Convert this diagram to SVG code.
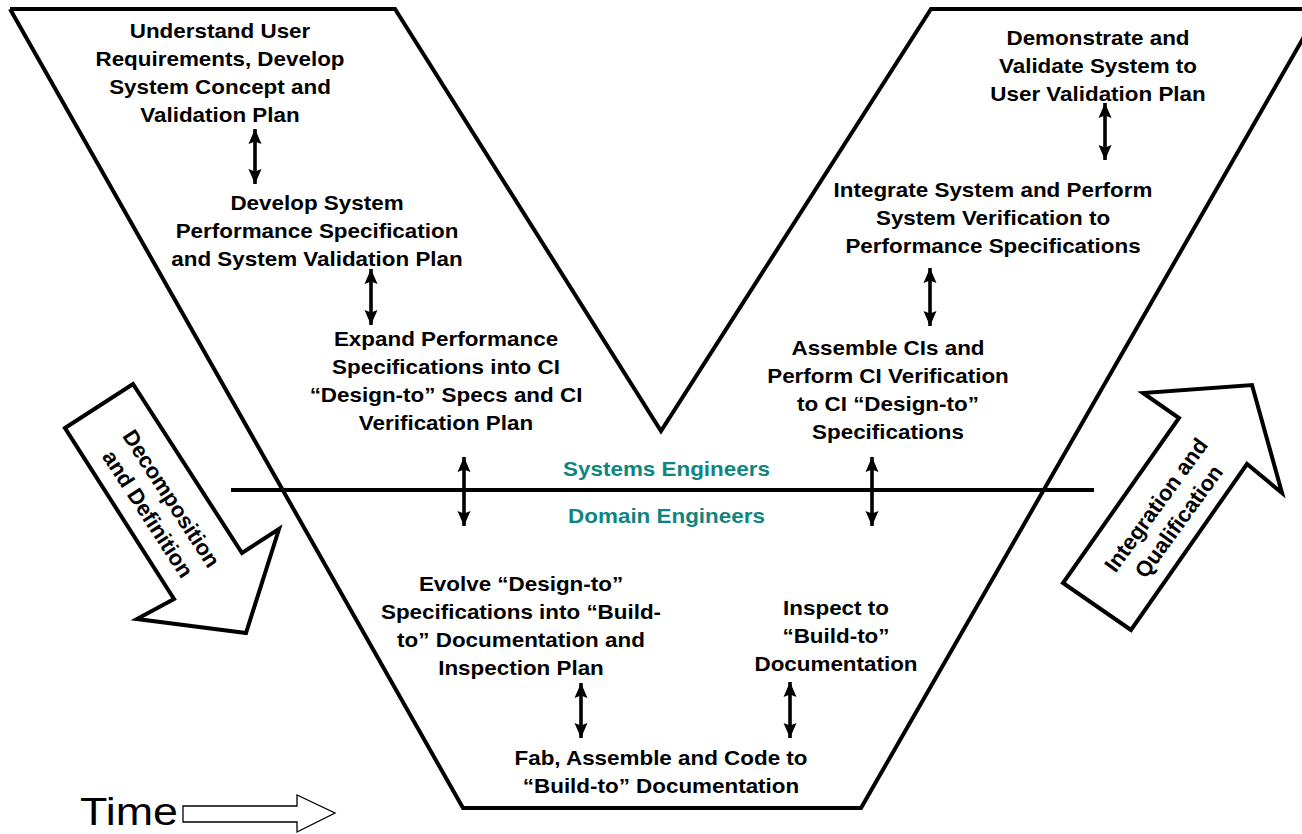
<svg xmlns="http://www.w3.org/2000/svg" width="1302" height="834" viewBox="0 0 1302 834">
<style>
.lbl{font-family:"Liberation Sans",Arial,sans-serif;font-weight:bold;font-size:19.5px;fill:#000;text-anchor:middle}
.team{font-family:"Liberation Sans",Arial,sans-serif;font-weight:bold;font-size:19.5px;fill:#0f8580;text-anchor:middle}
.big{font-family:"Liberation Sans",Arial,sans-serif;font-weight:bold;font-size:22px;fill:#000;text-anchor:middle}
.outline{fill:none;stroke:#000;stroke-width:4;stroke-linejoin:miter}
.barrow{fill:#fff;stroke:#000;stroke-width:4;stroke-linejoin:miter}
.dbl{stroke:#000;stroke-width:3.6;fill:none;marker-start:url(#head);marker-end:url(#head)}
</style>
<defs>
<marker id="head" markerUnits="userSpaceOnUse" markerWidth="16" markerHeight="16" viewBox="0 0 16 16" refX="15" refY="8" orient="auto-start-reverse">
<path d="M0,1.5 L15,8 L0,14.5 L2.5,8 Z" fill="#000"/>
</marker>
</defs>
<rect width="1302" height="834" fill="#fff"/>

<g id="v-shape">
<path class="outline" d="M10,9 L395,9 L661,431 L931,9 L1330,9"/>
<path class="outline" d="M1320,9 L861,808 L463,808 L10,9"/>
<line class="outline" x1="231" y1="490" x2="1094" y2="490"/>
</g>

<g id="arrow-decomposition">
<polygon class="barrow" points="65,428 133,384 242,553 279,529 246,633 137,619 174,599"/>
<g transform="translate(160,506) rotate(57)">
<text class="big" x="0" y="-6">Decomposition</text>
<text class="big" x="0" y="22">and Definition</text>
</g>
</g>

<g id="arrow-integration">
<polygon class="barrow" points="1131,630 1063,583 1179,418 1143,393 1252,385 1282,493 1247,464"/>
<g transform="translate(1167,513) rotate(-54)">
<text class="big" x="0" y="-6">Integration and</text>
<text class="big" x="0" y="22">Qualification</text>
</g>
</g>

<g id="node-user-req" transform="translate(220,0) scale(1.15,1)">
<text class="lbl" x="0" y="38">Understand User</text>
<text class="lbl" x="0" y="66">Requirements, Develop</text>
<text class="lbl" x="0" y="94">System Concept and</text>
<text class="lbl" x="0" y="122">Validation Plan</text>
</g>

<g id="node-sys-perf-spec" transform="translate(317,0) scale(1.15,1)">
<text class="lbl" x="0" y="210">Develop System</text>
<text class="lbl" x="0" y="238">Performance Specification</text>
<text class="lbl" x="0" y="266">and System Validation Plan</text>
</g>

<g id="node-expand-perf" transform="translate(446,0) scale(1.15,1)">
<text class="lbl" x="0" y="346.5">Expand Performance</text>
<text class="lbl" x="0" y="374.5">Specifications into CI</text>
<text class="lbl" x="0" y="402.5">“Design-to” Specs and CI</text>
<text class="lbl" x="0" y="430.5">Verification Plan</text>
</g>

<g id="node-demonstrate" transform="translate(1098,0) scale(1.15,1)">
<text class="lbl" x="0" y="45">Demonstrate and</text>
<text class="lbl" x="0" y="73">Validate System to</text>
<text class="lbl" x="0" y="101">User Validation Plan</text>
</g>

<g id="node-integrate" transform="translate(993,0) scale(1.15,1)">
<text class="lbl" x="0" y="197">Integrate System and Perform</text>
<text class="lbl" x="0" y="225">System Verification to</text>
<text class="lbl" x="0" y="253">Performance Specifications</text>
</g>

<g id="node-assemble" transform="translate(888,0) scale(1.15,1)">
<text class="lbl" x="0" y="355">Assemble CIs and</text>
<text class="lbl" x="0" y="383">Perform CI Verification</text>
<text class="lbl" x="0" y="411">to CI “Design-to”</text>
<text class="lbl" x="0" y="439">Specifications</text>
</g>

<g id="node-evolve" transform="translate(521,0) scale(1.15,1)">
<text class="lbl" x="0" y="591">Evolve “Design-to”</text>
<text class="lbl" x="0" y="619">Specifications into “Build-</text>
<text class="lbl" x="0" y="647">to” Documentation and</text>
<text class="lbl" x="0" y="675">Inspection Plan</text>
</g>

<g id="node-inspect" transform="translate(836,0) scale(1.15,1)">
<text class="lbl" x="0" y="615">Inspect to</text>
<text class="lbl" x="0" y="643">“Build-to”</text>
<text class="lbl" x="0" y="671">Documentation</text>
</g>

<g id="node-fab" transform="translate(661,0) scale(1.15,1)">
<text class="lbl" x="0" y="765">Fab, Assemble and Code to</text>
<text class="lbl" x="0" y="793">“Build-to” Documentation</text>
</g>

<g id="label-systems" transform="translate(666.5,0) scale(1.15,1)">
<text class="team" x="0" y="476">Systems Engineers</text>
</g>
<g id="label-domain" transform="translate(666.5,0) scale(1.15,1)">
<text class="team" x="0" y="523">Domain Engineers</text>
</g>

<g id="connectors">
<line class="dbl" x1="255" y1="129" x2="255" y2="184"/>
<line class="dbl" x1="371" y1="269" x2="371" y2="325"/>
<line class="dbl" x1="464" y1="457" x2="464" y2="526"/>
<line class="dbl" x1="872" y1="457" x2="872" y2="526"/>
<line class="dbl" x1="930" y1="268" x2="930" y2="326"/>
<line class="dbl" x1="1105" y1="103" x2="1105" y2="160"/>
<line class="dbl" x1="581" y1="683" x2="581" y2="738"/>
<line class="dbl" x1="790" y1="682" x2="790" y2="738"/>
</g>

<g id="time">
<g transform="translate(80,0) scale(1.15,1)">
<text x="0" y="825" style="font-family:'Liberation Sans',Arial,sans-serif;font-size:39px;fill:#000">Time</text>
</g>
<polygon points="183,806 297,806 297,795 335,813 297,832 297,822 183,822" fill="#fff" stroke="#000" stroke-width="1.3"/>
</g>
</svg>
